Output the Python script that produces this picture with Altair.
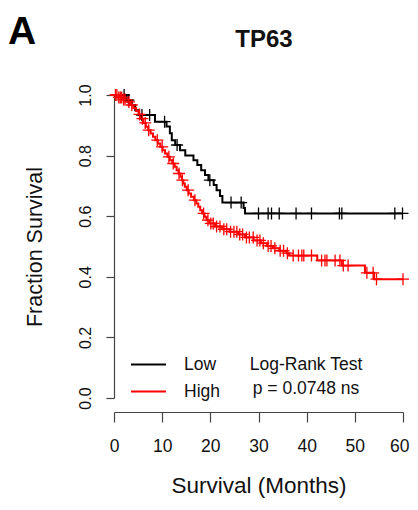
import altair as alt
import pandas as pd

FONT = "Liberation Sans"

# Kaplan-Meier step data
LOW_TIMES = [0, 2.6, 3.7, 4.4, 5.2, 8.5, 10.9, 11.6, 12.0, 12.7, 13.7, 14.8, 16.5, 17.3,
             18.1, 18.9, 19.6, 20.7, 21.3, 22.0, 22.5, 26.9, 27.2]
LOW_SURV = [1.0, 0.983, 0.967, 0.95, 0.934, 0.912, 0.896, 0.874, 0.851, 0.835, 0.818, 0.80,
            0.785, 0.769, 0.752, 0.736, 0.719, 0.703, 0.686, 0.667, 0.645, 0.627, 0.609]
LOW_CENSOR = [2.1, 3.0, 5.8, 7.4, 10.5, 13.1, 19.9, 24.3, 26.4, 30.0, 32.0, 32.7, 34.3,
              37.8, 41.0, 46.8, 47.3, 58.3, 59.9]
LOW_END = 59.9

HIGH_TIMES = [0, 0.8, 1.8, 2.8, 3.4, 4.0, 4.6, 5.1, 5.6, 6.1, 6.6, 7.1, 7.6, 8.1, 8.6, 9.1,
              9.6, 10.1, 10.6, 11.1, 11.6, 12.1, 12.6, 13.0, 13.4, 13.8, 14.1, 14.4, 14.7,
              15.1, 15.5, 16.0, 16.6, 17.1, 17.5, 17.9, 18.3, 18.8, 19.2, 19.8, 21.0, 22.5,
              24.0, 25.8, 27.2, 29.0, 30.5, 31.8, 33.0, 34.3, 35.8, 36.4, 42.2, 47.3, 52.1,
              54.0]
HIGH_SURV = [1.0, 0.992, 0.985, 0.977, 0.967, 0.957, 0.947, 0.936, 0.922, 0.908, 0.895,
             0.884, 0.873, 0.862, 0.851, 0.840, 0.829, 0.818, 0.807, 0.796, 0.785, 0.774,
             0.763, 0.752, 0.741, 0.730, 0.719, 0.708, 0.697, 0.686, 0.675, 0.664, 0.653,
             0.642, 0.631, 0.620, 0.609, 0.598, 0.587, 0.576, 0.566, 0.557, 0.549, 0.540,
             0.530, 0.520, 0.511, 0.502, 0.494, 0.486, 0.478, 0.470, 0.454, 0.437, 0.413,
             0.392]
HIGH_CENSOR = [0.3, 0.6, 1.0, 1.3, 1.6, 2.0, 2.3, 3.1, 3.7, 5.3, 5.9, 6.5, 7.2, 9.0, 10.0,
               11.4, 12.3, 13.5, 14.2, 15.4, 16.8, 18.6, 19.5, 20.1, 20.6, 21.3, 22.0, 22.8,
               23.4, 24.2, 24.9, 25.5, 26.1, 26.7, 27.5, 28.1, 28.9, 29.7, 30.3, 31.0, 32.0,
               32.6, 33.4, 34.5, 35.2, 36.0, 37.2, 38.3, 39.0, 39.4, 41.0, 43.1, 43.8, 44.2,
               45.9, 46.9, 47.6, 48.6, 52.5, 53.8, 54.5, 60.0]
HIGH_END = 60.0

GROUPS = ["Low", "High"]
COLORS = ["#000000", "#FF0000"]
X_TICKS = [0, 10, 20, 30, 40, 50, 60]
Y_TICKS = [0.0, 0.2, 0.4, 0.6, 0.8, 1.0]


def surv_at(times, survs, c):
    s = survs[0]
    for t, v in zip(times, survs):
        if t <= c:
            s = v
    return s


line_rows = []
cens_rows = []
for g, times, survs, cens, end in [
    ("Low", LOW_TIMES, LOW_SURV, LOW_CENSOR, LOW_END),
    ("High", HIGH_TIMES, HIGH_SURV, HIGH_CENSOR, HIGH_END),
]:
    for t, s in zip(times, survs):
        line_rows.append({"group": g, "t": t, "s": s})
    line_rows.append({"group": g, "t": end, "s": survs[-1]})
    for c in cens:
        cens_rows.append({"group": g, "t": c, "s": surv_at(times, survs, c)})

line_df = pd.DataFrame(line_rows)
cens_df = pd.DataFrame(cens_rows)

x_scale = alt.Scale(domain=[0, 60], nice=False, zero=False)
y_scale = alt.Scale(domain=[0, 1], nice=False)
color_scale = alt.Scale(domain=GROUPS, range=COLORS)

x_axis = alt.Axis(values=X_TICKS, format="d", offset=14, tickSize=10, labelPadding=15,
                  labelFontSize=17.5, labelFont=FONT, labelColor="#111",
                  labelAlign={"condition": {"test": "datum.value == 60", "value": "right"},
                              "value": "center"},
                  labelOffset={"condition": {"test": "datum.value == 60", "value": 6},
                               "value": 0},
                  title="Survival (Months)", titleFontSize=22.5, titleFont=FONT,
                  titleFontWeight="normal", titleColor="#111", titlePadding=20,
                  domainColor="#444", tickColor="#444", domainWidth=1.2, tickWidth=1.2,
                  grid=False, labelFlush=False)
y_axis = alt.Axis(values=Y_TICKS, format=".1f", offset=0, tickSize=8, labelAngle=270,
                  labelPadding=13, labelFontSize=16, labelFont=FONT, labelColor="#111",
                  title="Fraction Survival", titleFontSize=21.5, titleFont=FONT,
                  titleFontWeight="normal", titleColor="#111", titlePadding=31,
                  domainColor="#444", tickColor="#444", domainWidth=1.2, tickWidth=1.2,
                  grid=False, labelFlush=False)

lines = alt.Chart(line_df).mark_line(interpolate="step-after", strokeWidth=2).encode(
    x=alt.X("t:Q", scale=x_scale, axis=x_axis),
    y=alt.Y("s:Q", scale=y_scale, axis=y_axis),
    color=alt.Color("group:N", scale=color_scale, sort=GROUPS,
                    legend=alt.Legend(title=None, orient="none", legendX=16, legendY=251,
                                      symbolType="stroke", symbolSize=1225,
                                      symbolStrokeWidth=2, labelFontSize=17.5,
                                      labelFont=FONT, labelColor="#111", labelOffset=17,
                                      rowPadding=0, padding=0)),
)

censors = alt.Chart(cens_df).mark_point(
    shape="M-1,0L1,0M0,-1L0,1", size=144, filled=False, strokeWidth=1.3, opacity=1
).encode(
    x=alt.X("t:Q", scale=x_scale),
    y=alt.Y("s:Q", scale=y_scale),
    color=alt.Color("group:N", scale=color_scale, legend=None),
)

one = alt.Data(values=[{}])
txt_kw = dict(font=FONT, color="#111")
logrank = alt.Chart(one).mark_text(text="Log-Rank Test", fontSize=17.5, align="center",
                                   baseline="middle", **txt_kw).encode(
    x=alt.value(192), y=alt.value(270))
pval = alt.Chart(one).mark_text(text="p = 0.0748 ns", fontSize=17.5, align="center",
                                baseline="middle", **txt_kw).encode(
    x=alt.value(192), y=alt.value(294))
title = alt.Chart(one).mark_text(text="TP63", fontSize=24, fontWeight="bold",
                                 align="center", baseline="alphabetic", **txt_kw).encode(
    x=alt.value(150), y=alt.value(-48))
panel = alt.Chart(one).mark_text(text="A", fontSize=39, fontWeight="bold",
                                 align="center", baseline="alphabetic", font=FONT,
                                 color="#000").encode(
    x=alt.value(-92), y=alt.value(-51.5))

chart = alt.layer(lines, censors, logrank, pval, title, panel).properties(
    width=289, height=303,
    autosize=alt.AutoSizeParams(type="none"),
    padding={"left": 106, "top": 87, "right": 7, "bottom": 104},
    background="white",
).configure_view(stroke=None)

chart.save("out.html", embed_options={"renderer": "svg", "actions": False})
